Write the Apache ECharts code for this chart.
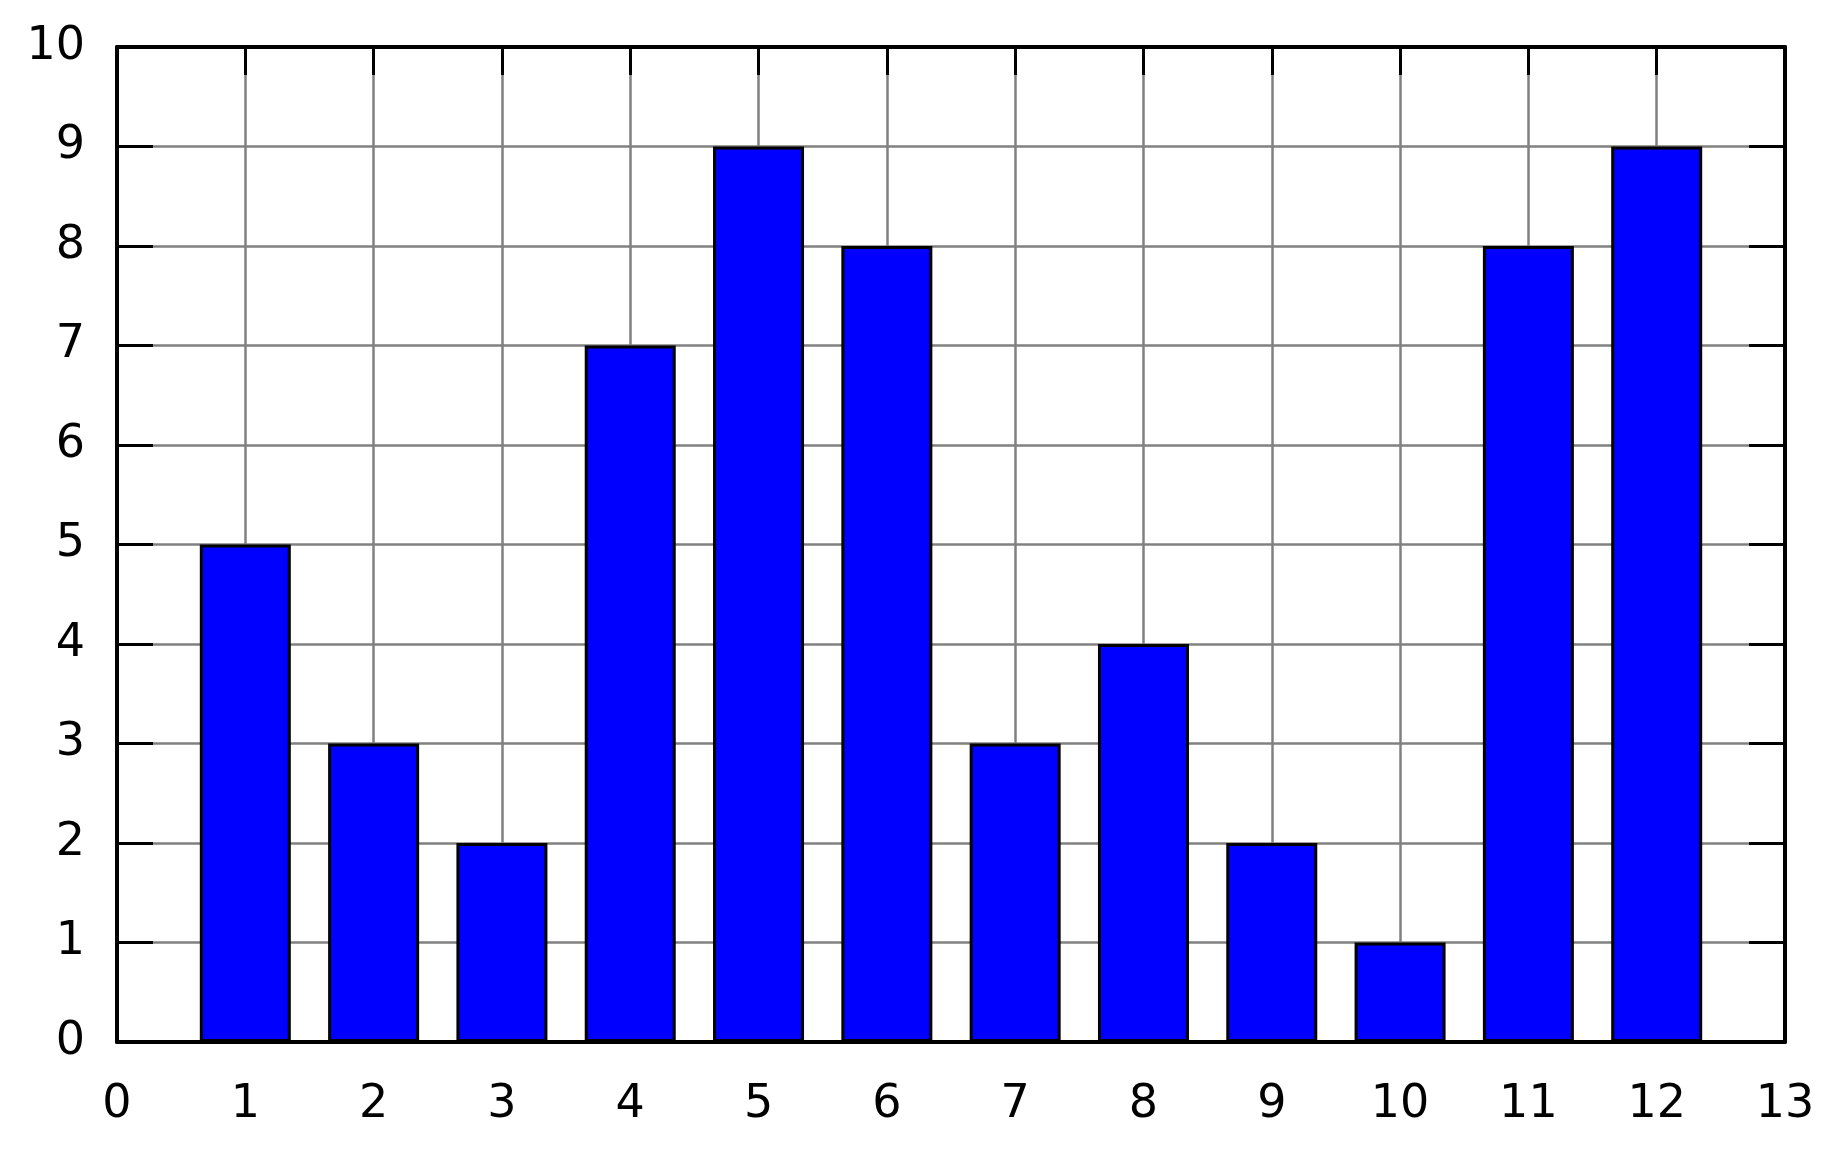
<!DOCTYPE html>
<html>
<head>
<meta charset="utf-8">
<script src="https://cdn.jsdelivr.net/npm/echarts@6/dist/echarts.min.js"></script>
<style>
  html, body { margin: 0; padding: 0; background: #fff; }
  #bar-charts { width: 1836px; height: 1168px; }
</style>
</head>
<body>
<div id="bar-charts"></div>
<script>
// data
var positions = [1, 2, 3, 4, 5, 6, 7, 8, 9, 10, 11, 12];
var values = [5, 3, 2, 7, 9, 8, 3, 4, 2, 1, 8, 9];
var xRange = [0, 13];
var yRange = [0, 10];

var labelFont = { color: "#000", fontFamily: "DejaVu Sans", fontSize: 46 };
var gridLine = { show: true, lineStyle: { color: "#808080", width: 2.5 } };
var border = { show: true, onZero: false, lineStyle: { color: "#000", width: 4 } };
var xTick = { show: true, inside: true, length: 28, lineStyle: { color: "#000", width: 3 } };
var yTick = { show: true, inside: true, length: 36, lineStyle: { color: "#000", width: 3 } };

var myCharts = echarts.init(document.getElementById("bar-charts"));
myCharts.setOption({
  animation: false,
  grid: { left: 117, right: 51, top: 47, bottom: 126 },
  xAxis: [
    {
      type: "value", position: "bottom", min: xRange[0], max: xRange[1], interval: 1,
      axisLine: border,
      axisTick: xTick,
      axisLabel: Object.assign({ margin: 40, showMinLabel: true, showMaxLabel: true }, labelFont),
      splitLine: gridLine
    },
    {
      type: "value", position: "top", min: xRange[0], max: xRange[1], interval: 1,
      axisLine: border,
      axisTick: xTick,
      axisLabel: { show: false },
      splitLine: { show: false }
    }
  ],
  yAxis: [
    {
      type: "value", position: "left", min: yRange[0], max: yRange[1], interval: 1,
      axisLine: border,
      axisTick: yTick,
      axisLabel: Object.assign({ margin: 32 }, labelFont),
      splitLine: gridLine
    },
    {
      type: "value", position: "right", min: yRange[0], max: yRange[1], interval: 1,
      axisLine: border,
      axisTick: yTick,
      axisLabel: { show: false },
      splitLine: { show: false }
    }
  ],
  series: [
    {
      type: "bar",
      xAxisIndex: 0,
      yAxisIndex: 0,
      barWidth: 91,
      itemStyle: { color: "#0000ff", borderColor: "#000", borderWidth: 3 },
      data: positions.map(function (p, i) { return [p, values[i]]; })
    }
  ]
});
</script>
</body>
</html>
